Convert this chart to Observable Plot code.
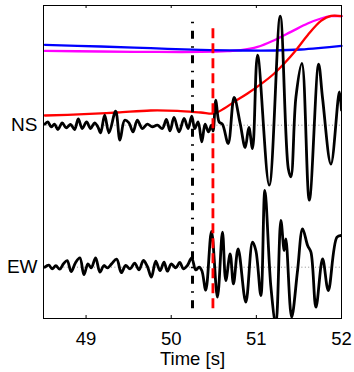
<!DOCTYPE html>
<html><head><meta charset="utf-8">
<script src="https://cdn.jsdelivr.net/npm/d3@7"></script>
<script src="https://cdn.jsdelivr.net/npm/@observablehq/plot@0.6"></script>
<style>body{margin:0;background:#fff} #chart svg{display:block}</style>
</head><body><div id="chart"></div>
<script>
// Time [s], amplitude (relative) pairs
const nsTrace = [[48.516,0.1],[48.551,0.33],[48.590,-0.17],[48.629,0.1],[48.669,-0.43],[48.720,0.23],[48.767,-0.27],[48.818,0.07],[48.865,-0.43],[48.908,0.63],[48.955,-0.33],[49.006,0.33],[49.053,-0.33],[49.100,0.23],[49.139,-0.17],[49.171,-0.77],[49.218,1.0],[49.269,-0.77],[49.347,1.4],[49.398,-1.5],[49.453,0.5],[49.504,0.23],[49.551,-0.67],[49.602,0.5],[49.661,-0.33],[49.720,0.1],[49.778,-0.17],[49.837,0],[49.896,-0.33],[49.943,0.57],[49.986,-0.57],[50.033,0.77],[50.092,-0.67],[50.151,0.67],[50.198,-0.33],[50.241,0.9],[50.276,-0.33],[50.316,0.33],[50.359,-1.67],[50.398,0.1],[50.437,-0.67],[50.473,0],[50.492,-0.57],[50.524,2.5],[50.563,0.33],[50.602,0.1],[50.669,-1.83],[50.739,2.77],[50.810,0.17],[50.869,-2.23],[50.912,-0.23],[50.955,-2.33],[51.014,7.0],[51.151,-6.0],[51.280,10.9],[51.375,-4.33],[51.406,-5.17],[51.465,2.83],[51.535,6.17],[51.622,-7.5],[51.731,6.1],[51.778,2.67],[51.876,-3.9],[51.975,3.33],[52.0,1.5]];
const ewTrace = [[48.516,0],[48.563,0.2],[48.602,-0.17],[48.645,0.15],[48.69,-0.2],[48.735,0.35],[48.778,0.65],[48.825,-0.45],[48.876,0.45],[48.927,0.93],[48.975,-0.75],[49.022,0.33],[49.061,-0.07],[49.112,0.93],[49.163,-0.5],[49.210,0.17],[49.249,-0.07],[49.300,0.33],[49.359,0.8],[49.414,-0.55],[49.465,0.17],[49.516,-0.17],[49.571,0.4],[49.622,-0.27],[49.673,0.67],[49.720,0.07],[49.767,-1.0],[49.818,0.6],[49.869,-0.35],[49.916,0.5],[49.955,-0.4],[50.002,0.33],[50.053,-0.07],[50.100,0.47],[50.143,-0.17],[50.190,0.17],[50.240,0.93],[50.288,-0.27],[50.327,0],[50.359,-0.33],[50.406,-2.3],[50.473,3.57],[50.543,-3.0],[50.602,3.5],[50.641,-1.33],[50.692,1.33],[50.731,-1.67],[50.786,1.83],[50.876,-3.5],[50.955,2.5],[50.994,1.67],[51.053,-2.83],[51.100,7.67],[51.171,-2.0],[51.229,-5.7],[51.288,4.67],[51.327,1.67],[51.347,2.83],[51.414,-5.0],[51.484,-0.33],[51.543,3.83],[51.602,2.17],[51.641,1.5],[51.700,-4.0],[51.778,0.83],[51.845,-2.33],[51.947,3.0],[52.0,3.17]];
const blueCurve = [[48.516,8.03],[49.171,7.87],[49.759,7.7],[50.347,7.53],[50.818,7.47],[51.210,7.47],[51.524,7.57],[51.759,7.73],[52.0,7.93]];
const magentaCurve = [[48.516,7.43],[49.171,7.37],[49.759,7.33],[50.347,7.33],[50.661,7.4],[50.818,7.5],[51.014,7.83],[51.210,8.5],[51.406,9.33],[51.602,10.17],[51.759,10.67],[51.876,10.9],[52.0,10.9]];
const redCurve = [[48.516,0.97],[48.975,1.1],[49.367,1.27],[49.759,1.47],[50.073,1.43],[50.347,1.27],[50.504,1.17],[50.622,1.67],[50.739,2.33],[50.896,3.17],[51.053,4.1],[51.210,5.17],[51.327,6.17],[51.465,7.5],[51.602,9.0],[51.759,10.43],[51.876,10.93],[52.0,10.9]];
const traceNames = ["NS", "EW"];
const traceOffsets = [14.2, 0];
const pickTimes = [50.25, 50.49];
const pickTops = [25.07, 24.2];
const pickBottom = -4.15;
const xTicks = [49, 50, 51, 52];
const xDomain = [48.5, 52];
const yDomain = [-5.13, 26.17];
const xLabel = "Time [s]";

const NS = traceOffsets[0], EW = traceOffsets[1];
const fx = d => d[0];

const chart = Plot.plot({
  width: 354, height: 372,
  marginLeft: 43, marginRight: 13, marginTop: 5, marginBottom: 54,
  style: {fontFamily: "'Liberation Sans', Arial, sans-serif", fontSize: "18px", background: "#fff", color: "#000"},
  x: {domain: xDomain},
  y: {domain: yDomain},
  marks: [
    Plot.ruleY(traceOffsets, {stroke: "#8a8a8a", strokeWidth: 1, strokeDasharray: "1,2.4"}),
    Plot.line(magentaCurve, {x: fx, y: d => d[1] + NS, stroke: "#ff00ff", strokeWidth: 2.3, curve: "catmull-rom"}),
    Plot.line(blueCurve, {x: fx, y: d => d[1] + NS, stroke: "#0000ff", strokeWidth: 2.3, curve: "catmull-rom"}),
    Plot.line(redCurve, {x: fx, y: d => d[1] + NS, stroke: "#ff0000", strokeWidth: 2.3, curve: "catmull-rom"}),
    Plot.line(nsTrace, {x: fx, y: d => d[1] + NS, stroke: "#000", strokeWidth: 2.8, curve: "catmull-rom", clip: true}),
    Plot.line(ewTrace, {x: fx, y: d => d[1] + EW, stroke: "#000", strokeWidth: 2.8, curve: "catmull-rom", clip: true}),
    Plot.ruleX([pickTimes[0]], {y1: pickBottom, y2: pickTops[0], stroke: "#000", strokeWidth: 3, strokeDasharray: "8,7.5,1.5,7.5"}),
    Plot.ruleX([pickTimes[1]], {y1: pickBottom, y2: pickTops[1], stroke: "#ff0000", strokeWidth: 2.8, strokeDasharray: "10,5"}),
    Plot.frame({stroke: "#000", strokeWidth: 1}),
    Plot.ruleX(xTicks, {y1: yDomain[0], y2: yDomain[0] + 0.3, stroke: "#000", strokeWidth: 1}),
    Plot.ruleX(xTicks, {y1: yDomain[1], y2: yDomain[1] - 0.3, stroke: "#000", strokeWidth: 1}),
    Plot.axisX(xTicks, {tickSize: 0, tickPadding: 13, tickFormat: d => String(d), fontSize: 18.5}),
    Plot.axisY(traceOffsets, {tickSize: 0, tickPadding: 6, tickFormat: d => traceNames[traceOffsets.indexOf(d)], fontSize: 19, label: null}),
    Plot.text([xLabel], {text: d => d, frameAnchor: "bottom", dy: 46, lineAnchor: "bottom", fontSize: 18.5})
  ]
});
document.getElementById("chart").appendChild(chart);
</script>
</body></html>
